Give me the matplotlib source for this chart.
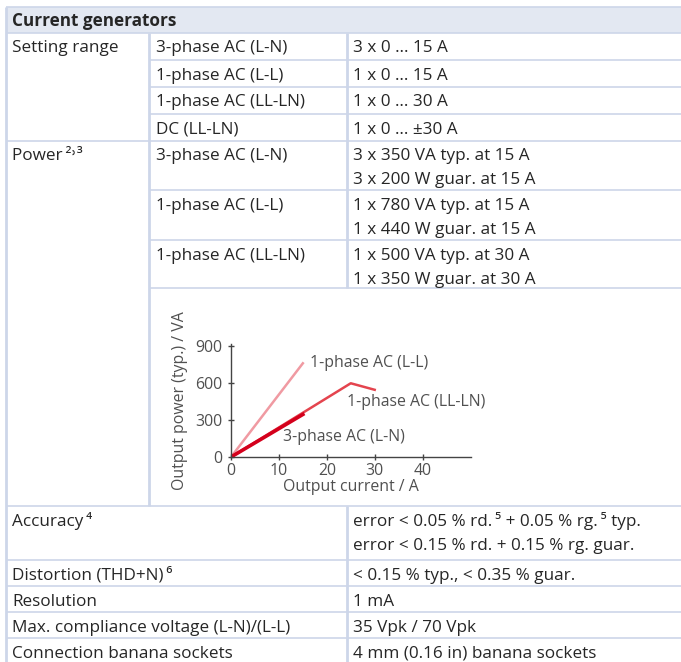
import matplotlib.pyplot as plt

# table content
header = 'Current generators'
setting_modes = ['3-phase AC (L-N)', '1-phase AC (L-L)', '1-phase AC (LL-LN)', 'DC (LL-LN)']
setting_values = ['3 x 0 … 15 A', '1 x 0 … 15 A', '1 x 0 … 30 A', '1 x 0 … ±30 A']
power_modes = ['3-phase AC (L-N)', '1-phase AC (L-L)', '1-phase AC (LL-LN)']
power_values = [['3 x 350 VA typ. at 15 A', '3 x 200 W guar. at 15 A'],
                ['1 x 780 VA typ. at 15 A', '1 x 440 W guar. at 15 A'],
                ['1 x 500 VA typ. at 30 A', '1 x 350 W guar. at 30 A']]
other_labels = ['Accuracy\u2009⁴', 'Distortion (THD+N)\u2009⁶', 'Resolution',
                'Max. compliance voltage (L-N)/(L-L)', 'Connection banana sockets']
other_values = [['error < 0.05 % rd.\u2009⁵ + 0.05 % rg.\u2009⁵ typ.', 'error < 0.15 % rd. + 0.15 % rg. guar.'],
                ['< 0.15 % typ., < 0.35 % guar.'],
                ['1 mA'],
                ['35 Vpk / 70 Vpk'],
                ['4 mm (0.16 in) banana sockets']]

# chart data (output current A, output power VA)
ll_current = [0, 15]
ll_power = [0, 760]
llln_current = [0, 25, 30]
llln_power = [0, 598, 545]
ln_current = [0, 15]
ln_power = [0, 345]

plt.rcParams['font.family'] = ['Open Sans', 'DejaVu Sans']
TXT = '#262626'
GREY = '#505050'
LINE = '#cdd6e9'
FS = 12.3
CFS = 11.4

W, H = 681, 662
fig = plt.figure(figsize=(W / 100, H / 100), dpi=100)
bg = fig.add_axes([0, 0, 1, 1])
bg.set_xlim(0, W)
bg.set_ylim(H, 0)
bg.axis('off')

X0, X1, X2 = 6, 149, 347
TX0, TX1, TX2 = 12, 156, 353
DY = 15.5


def hline(y, x0, x1=W):
    bg.plot([x0, x1], [y, y], color=LINE, lw=1.2, solid_capstyle='butt')


def vline(x, y0, y1):
    bg.plot([x, x], [y0, y1], color=LINE, lw=2, solid_capstyle='butt')


def txt(x, y, s, **kw):
    bg.text(x, y, s, fontsize=FS, color=TXT, va='center', ha='left', **kw)


# header
bg.fill_between([X0, W], 7, 33, color='#e3e8f2', lw=0)
hline(7, X0)
hline(33, X0)
txt(TX0, 21, header, fontweight='bold')

# setting range
row_h = 27
y = 33
txt(TX0, y + DY, 'Setting range')
for i, (m, v) in enumerate(zip(setting_modes, setting_values)):
    txt(TX1, y + DY, m)
    txt(TX2, y + DY, v)
    y += row_h
    hline(y, X1 if i < len(setting_modes) - 1 else X0)

# power
txt(TX0, y + DY, 'Power\u2009²˒³')
sub_h = [49, 50, 48]
for m, vals, h in zip(power_modes, power_values, sub_h):
    txt(TX1, y + DY, m)
    for k, v in enumerate(vals):
        txt(TX2, y + DY + 24 * k, v)
    y += h
    hline(y, X1)
vline(X2, 33, y)
y = 506
hline(y, X0)
vline(X1, 33, y)

# other rows
rows_h = [54, 26, 26, 26, 26]
for lab, vals, h in zip(other_labels, other_values, rows_h):
    txt(TX0, y + DY, lab)
    for k, v in enumerate(vals):
        txt(TX2, y + DY + 24 * k, v)
    y += h
    if y < H - 2:
        hline(y, X0)
vline(X2, 506, H)
vline(X0, 7, H)

# chart
px_left, px_bottom = 231, 457
px_per_x = 4.79
px_per_y = 0.1233
xmax, ymax = 50, 920
ax = fig.add_axes([px_left / W, (H - px_bottom) / H,
                   xmax * px_per_x / W, ymax * px_per_y / H])
ax.set_facecolor('none')
ax.plot(ll_current, ll_power, color='#f09aa2', lw=1.8)
ax.plot(llln_current, llln_power, color='#e4444e', lw=1.8)
ax.plot(ln_current, ln_power, color='#d4001c', lw=2.6)
ax.set_xlim(0, xmax)
ax.set_ylim(0, ymax)
ax.set_xticks([0, 10, 20, 30, 40])
ax.set_yticks([0, 300, 600, 900])
for s in ['top', 'right']:
    ax.spines[s].set_visible(False)
for s in ['left', 'bottom']:
    ax.spines[s].set_color('#444444')
    ax.spines[s].set_linewidth(1)
ax.tick_params(direction='inout', length=5, width=1, color='#444444',
               labelsize=CFS, labelcolor=GREY, pad=2)
ax.tick_params(axis='y', pad=4)
ax.set_xlabel('Output current / A', fontsize=CFS, color=GREY, labelpad=0)
ax.set_ylabel('Output power (typ.) / VA', fontsize=CFS, color=GREY, labelpad=5)
ax.text(16.5, 760, '1-phase AC (L-L)', fontsize=CFS, color=GREY, va='center')
ax.text(24.2, 445, '1-phase AC (LL-LN)', fontsize=CFS, color=GREY, va='center')
ax.text(10.8, 160, '3-phase AC (L-N)', fontsize=CFS, color=GREY, va='center')

fig.savefig('out.png', dpi=100)
